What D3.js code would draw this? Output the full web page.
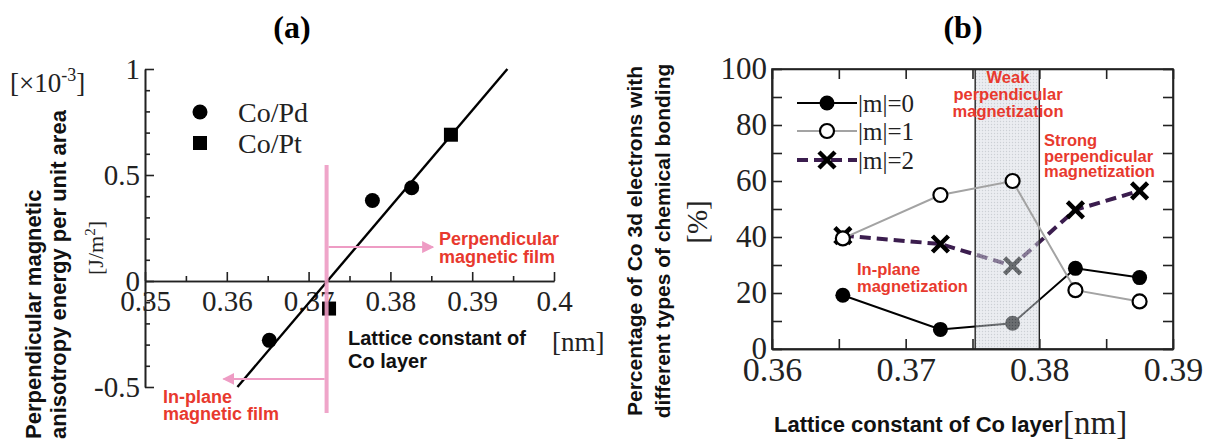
<!DOCTYPE html>
<html>
<head>
<meta charset="utf-8">
<script src="https://cdn.jsdelivr.net/npm/d3@7"></script>
<style>
  html, body { margin: 0; padding: 0; background: #fff; }
  svg { display: block; }
  .serif { font-family: "Liberation Serif", "Times New Roman", serif; }
  .sans { font-family: "Liberation Sans", Arial, sans-serif; font-weight: bold; }
  .note { font-family: "Liberation Sans", Arial, sans-serif; font-weight: bold; fill: #e8392e; }
</style>
</head>
<body>
<svg id="fig" width="1211" height="444"></svg>
<script>
// ---------- Panel (a): perpendicular magnetic anisotropy energy ----------
const coPdLattice = [0.3652, 0.3778, 0.3826];
const coPdEnergy  = [-0.28, 0.38, 0.44];
const coPtLattice = [0.3725, 0.3874];
const coPtEnergy  = [-0.13, 0.69];
const fitLattice  = [0.3613, 0.3943];
const fitEnergy   = [-0.5, 1.0];
const crossover   = 0.3722;           // lattice constant where energy changes sign
const energyTicks = [-0.5, 0, 0.5, 1];
const energyMinor = [-0.4, -0.3, -0.2, -0.1, 0.1, 0.2, 0.3, 0.4, 0.6, 0.7, 0.8, 0.9];
const latticeTicksA = [0.35, 0.36, 0.37, 0.38, 0.39, 0.4];
const latticeMinorA = [0.355, 0.365, 0.375, 0.385, 0.395];
const legendA = ["Co/Pd", "Co/Pt"];

// ---------- Panel (b): share of Co 3d electrons per bonding type ----------
const latticeB = [0.3653, 0.3726, 0.3780, 0.3827, 0.3875];
const m0 = [19.2, 7, 9.2, 28.8, 25.5];
const m1 = [39.5, 55, 60, 21, 17];
const m2 = [40.5, 37.5, 29.7, 49.7, 56.5];
const weakBand = [0.3752, 0.38];
const latticeTicksB = [0.36, 0.37, 0.38, 0.39];
const latticeMinorB = [0.365, 0.375, 0.385];
const percentTicks = [0, 20, 40, 60, 80, 100];
const percentMinor = [10, 30, 50, 70, 90];
const legendB = ["|m|=0", "|m|=1", "|m|=2"];

const svg = d3.select("#fig");
const PINK = "#ee9cc4";
const PURPLE = "#3b1d4e";

// arrowhead for the pink annotation arrows
const defs = svg.append("defs");
defs.append("marker").attr("id", "pinkHead")
  .attr("viewBox", "0 0 10 10").attr("refX", 9).attr("refY", 5)
  .attr("markerWidth", 6).attr("markerHeight", 6).attr("orient", "auto")
  .append("path").attr("d", "M0,0L10,5L0,10Z").attr("fill", PINK);

// dotted fill for the weak-perpendicular band
const pat = defs.append("pattern").attr("id", "dots")
  .attr("width", 3).attr("height", 3).attr("patternUnits", "userSpaceOnUse");
pat.append("rect").attr("width", 3).attr("height", 3).attr("fill", "#d6dbe2");
pat.append("circle").attr("cx", 1.5).attr("cy", 1.5).attr("r", 0.7).attr("fill", "#98a0aa");

function styleAxis(g, size) {
  g.selectAll("path.domain").attr("stroke", "#222").attr("stroke-width", 1.6);
  g.selectAll(".tick line").attr("stroke", "#222").attr("stroke-width", 1.6);
  g.selectAll("text").attr("class", "serif").attr("font-size", size).attr("fill", "#222");
}

// ================= Panel (a) =================
const xA = d3.scaleLinear().domain([0.35, 0.4]).range([145, 554]);
const yA = d3.scaleLinear().domain([-0.5, 1]).range([387, 69]);
const a = svg.append("g");

a.append("text").attr("class", "serif").attr("x", 292).attr("y", 38)
  .attr("text-anchor", "middle").attr("font-size", 32).attr("font-weight", "bold").text("(a)");

// y axis (ticks point inward)
a.append("g").attr("transform", `translate(${xA(0.35)},0)`)
  .call(d3.axisLeft(yA).tickValues(energyMinor).tickSizeInner(-5).tickSizeOuter(0).tickFormat(""))
  .call(g => styleAxis(g, 29));
a.append("g").attr("transform", `translate(${xA(0.35)},0)`)
  .call(d3.axisLeft(yA).tickValues(energyTicks).tickSizeInner(-9).tickSizeOuter(0)
    .tickPadding(5).tickFormat(d => String(d)))
  .call(g => styleAxis(g, 29));

// x axis drawn along zero energy
a.append("g").attr("transform", `translate(0,${yA(0)})`)
  .call(d3.axisBottom(xA).tickValues(latticeMinorA).tickSizeInner(-5).tickSizeOuter(0).tickFormat(""))
  .call(g => styleAxis(g, 29));
a.append("g").attr("transform", `translate(0,${yA(0)})`)
  .call(d3.axisBottom(xA).tickValues(latticeTicksA).tickSizeInner(-9).tickSizeOuter(0)
    .tickPadding(9).tickFormat(d => String(d)))
  .call(g => styleAxis(g, 29));

// units and axis titles
const unitA = a.append("text").attr("class", "serif").attr("x", 10).attr("y", 92).attr("font-size", 27).attr("fill", "#222");
unitA.append("tspan").text("[×10");
unitA.append("tspan").attr("font-size", 18).attr("dy", -11).text("-3");
unitA.append("tspan").attr("dy", 11).text("]");

const jm = a.append("text").attr("class", "serif").attr("font-size", 22).attr("fill", "#222")
  .attr("text-anchor", "middle").attr("transform", "translate(103,248) rotate(-90)");
jm.append("tspan").text("[J/m");
jm.append("tspan").attr("font-size", 15).attr("dy", -8).text("2");
jm.append("tspan").attr("dy", 8).text("]");

["Perpendicular magnetic", "anisotropy energy per unit area"].forEach((t, i) => {
  a.append("text").attr("class", "sans").attr("font-size", 22).attr("fill", "#111")
    .attr("transform", `translate(${41 + i * 25},439) rotate(-90)`).text(t);
});

["Lattice constant of", "Co layer"].forEach((t, i) => {
  a.append("text").attr("class", "sans").attr("font-size", 20).attr("fill", "#111")
    .attr("x", 348).attr("y", 345 + i * 23).text(t);
});
a.append("text").attr("class", "serif").attr("font-size", 27).attr("fill", "#222")
  .attr("x", 552).attr("y", 351).text("[nm]");

// linear fit
a.append("path").datum(d3.zip(fitLattice, fitEnergy))
  .attr("d", d3.line().x(d => xA(d[0])).y(d => yA(d[1])))
  .attr("fill", "none").attr("stroke", "#000").attr("stroke-width", 2.4);

// measured points
a.selectAll("circle.pd").data(d3.zip(coPdLattice, coPdEnergy)).join("circle")
  .attr("class", "pd").attr("cx", d => xA(d[0])).attr("cy", d => yA(d[1])).attr("r", 7.5).attr("fill", "#000");
a.selectAll("rect.pt").data(d3.zip(coPtLattice, coPtEnergy)).join("rect")
  .attr("class", "pt").attr("x", d => xA(d[0]) - 7).attr("y", d => yA(d[1]) - 7)
  .attr("width", 14).attr("height", 14).attr("fill", "#000");

// crossover marker and arrows
a.append("line").attr("x1", xA(crossover)).attr("x2", xA(crossover))
  .attr("y1", yA(0.547)).attr("y2", yA(-0.623)).attr("stroke", PINK).attr("stroke-width", 4).attr("opacity", 0.9);
a.append("line").attr("x1", xA(crossover) + 2).attr("x2", xA(0.3852))
  .attr("y1", yA(0.16)).attr("y2", yA(0.16)).attr("stroke", PINK).attr("stroke-width", 2)
  .attr("marker-end", "url(#pinkHead)");
a.append("line").attr("x1", xA(crossover) - 2).attr("x2", xA(0.3596))
  .attr("y1", yA(-0.462)).attr("y2", yA(-0.462)).attr("stroke", PINK).attr("stroke-width", 2)
  .attr("marker-end", "url(#pinkHead)");

["Perpendicular", "magnetic film"].forEach((t, i) => {
  a.append("text").attr("class", "note").attr("font-size", 18).attr("x", 439).attr("y", 245 + i * 18).text(t);
});
["In-plane", "magnetic film"].forEach((t, i) => {
  a.append("text").attr("class", "note").attr("font-size", 18).attr("x", 163).attr("y", 403 + i * 17).text(t);
});

// legend
const legA = a.append("g");
legA.append("circle").attr("cx", 200).attr("cy", 112).attr("r", 7.5).attr("fill", "#000");
legA.append("rect").attr("x", 193).attr("y", 136).attr("width", 14).attr("height", 14).attr("fill", "#000");
legendA.forEach((t, i) => {
  legA.append("text").attr("class", "serif").attr("font-size", 28).attr("fill", "#222")
    .attr("x", 238).attr("y", 122 + i * 31).text(t);
});

// ================= Panel (b) =================
const xB = d3.scaleLinear().domain([0.36, 0.39]).range([772, 1173]);
const yB = d3.scaleLinear().domain([0, 100]).range([349, 69]);
const b = svg.append("g");

b.append("text").attr("class", "serif").attr("x", 963).attr("y", 38)
  .attr("text-anchor", "middle").attr("font-size", 32).attr("font-weight", "bold").text("(b)");

const lineB = vals => d3.line().x((d, i) => xB(latticeB[i])).y(d => yB(d))(vals);

// |m|=0 and |m|=2 sit beneath the band shading
b.append("path").attr("d", lineB(m0)).attr("fill", "none").attr("stroke", "#000").attr("stroke-width", 2);
b.selectAll("circle.m0").data(m0).join("circle").attr("class", "m0")
  .attr("cx", (d, i) => xB(latticeB[i])).attr("cy", d => yB(d)).attr("r", 7.5).attr("fill", "#000");

b.append("path").attr("d", lineB(m2)).attr("fill", "none").attr("stroke", PURPLE)
  .attr("stroke-width", 4).attr("stroke-dasharray", "11,6");
const cross = (g, cx, cy, s) => {
  g.append("path").attr("d", `M${cx - s},${cy - s}L${cx + s},${cy + s}M${cx - s},${cy + s}L${cx + s},${cy - s}`)
    .attr("stroke", "#000").attr("stroke-width", 4.5).attr("fill", "none");
};
m2.forEach((d, i) => cross(b, xB(latticeB[i]), yB(d), 8));

// weak perpendicular magnetization band
b.append("rect").attr("x", xB(weakBand[0])).attr("y", yB(100))
  .attr("width", xB(weakBand[1]) - xB(weakBand[0])).attr("height", yB(0) - yB(100))
  .attr("fill", "url(#dots)").attr("opacity", 0.5);
weakBand.forEach(v => {
  b.append("line").attr("x1", xB(v)).attr("x2", xB(v)).attr("y1", yB(0)).attr("y2", yB(100))
    .attr("stroke", "#222").attr("stroke-width", 1.4);
});

// |m|=1 on top
b.append("path").attr("d", lineB(m1)).attr("fill", "none").attr("stroke", "#a3a3a3").attr("stroke-width", 2);
b.selectAll("circle.m1").data(m1).join("circle").attr("class", "m1")
  .attr("cx", (d, i) => xB(latticeB[i])).attr("cy", d => yB(d)).attr("r", 7)
  .attr("fill", "#fff").attr("stroke", "#000").attr("stroke-width", 2.2);

// frame with inward ticks on all sides
b.append("rect").attr("x", xB(0.36)).attr("y", yB(100)).attr("width", xB(0.39) - xB(0.36))
  .attr("height", yB(0) - yB(100)).attr("fill", "none").attr("stroke", "#222").attr("stroke-width", 1.6);
const allPct = percentTicks.concat(percentMinor);
const allLatB = latticeTicksB.concat(latticeMinorB);
b.append("g").attr("transform", `translate(${xB(0.36)},0)`)
  .call(d3.axisLeft(yB).tickValues(percentMinor).tickSizeInner(-10).tickSizeOuter(0).tickFormat(""))
  .call(g => styleAxis(g, 31));
b.append("g").attr("transform", `translate(${xB(0.36)},0)`)
  .call(d3.axisLeft(yB).tickValues(percentTicks).tickSizeInner(-10).tickSizeOuter(0).tickPadding(5))
  .call(g => styleAxis(g, 31));
b.append("g").attr("transform", `translate(${xB(0.39)},0)`)
  .call(d3.axisRight(yB).tickValues(allPct).tickSizeInner(-10).tickSizeOuter(0).tickFormat(""))
  .call(g => styleAxis(g, 31));
b.append("g").attr("transform", `translate(0,${yB(0)})`)
  .call(d3.axisBottom(xB).tickValues(latticeMinorB).tickSizeInner(-10).tickSizeOuter(0).tickFormat(""))
  .call(g => styleAxis(g, 34));
b.append("g").attr("transform", `translate(0,${yB(0)})`)
  .call(d3.axisBottom(xB).tickValues(latticeTicksB).tickSizeInner(-10).tickSizeOuter(0)
    .tickPadding(8).tickFormat(d => String(d)))
  .call(g => styleAxis(g, 34));
b.append("g").attr("transform", `translate(0,${yB(100)})`)
  .call(d3.axisTop(xB).tickValues(allLatB).tickSizeInner(-10).tickSizeOuter(0).tickFormat(""))
  .call(g => styleAxis(g, 31));

// axis titles
["Percentage of Co 3d electrons with", "different types of chemical bonding"].forEach((t, i) => {
  b.append("text").attr("class", "sans").attr("font-size", 21).attr("fill", "#111")
    .attr("text-anchor", "middle").attr("transform", `translate(${642 + i * 28},241) rotate(-90)`).text(t);
});
b.append("text").attr("class", "serif").attr("font-size", 29).attr("fill", "#222")
  .attr("text-anchor", "middle").attr("transform", "translate(707,222) rotate(-90)").text("[%]");
b.append("text").attr("class", "sans").attr("font-size", 22).attr("fill", "#111")
  .attr("x", 774).attr("y", 432).text("Lattice constant of Co layer");
b.append("text").attr("class", "serif").attr("font-size", 33).attr("fill", "#222")
  .attr("x", 1063).attr("y", 434).text("[nm]");

// region notes
["Weak", "perpendicular", "magnetization"].forEach((t, i) => {
  b.append("text").attr("class", "note").attr("font-size", 16.5).attr("text-anchor", "middle")
    .attr("x", 1008).attr("y", 83 + i * 17).text(t);
});
["Strong", "perpendicular", "magnetization"].forEach((t, i) => {
  b.append("text").attr("class", "note").attr("font-size", 16.5)
    .attr("x", 1044).attr("y", 146 + i * 15.5).text(t);
});
["In-plane", "magnetization"].forEach((t, i) => {
  b.append("text").attr("class", "note").attr("font-size", 16.5)
    .attr("x", 857).attr("y", 275 + i * 16.5).text(t);
});

// legend
const legB = b.append("g");
const legY = [103, 131, 160];
legB.append("line").attr("x1", 797).attr("x2", 857).attr("y1", legY[0]).attr("y2", legY[0]).attr("stroke", "#000").attr("stroke-width", 2);
legB.append("circle").attr("cx", 827).attr("cy", legY[0]).attr("r", 7.5).attr("fill", "#000");
legB.append("line").attr("x1", 797).attr("x2", 857).attr("y1", legY[1]).attr("y2", legY[1]).attr("stroke", "#a3a3a3").attr("stroke-width", 2);
legB.append("circle").attr("cx", 827).attr("cy", legY[1]).attr("r", 7).attr("fill", "#fff").attr("stroke", "#000").attr("stroke-width", 2.2);
legB.append("line").attr("x1", 797).attr("x2", 857).attr("y1", legY[2]).attr("y2", legY[2]).attr("stroke", PURPLE)
  .attr("stroke-width", 4).attr("stroke-dasharray", "11,6");
cross(legB, 827, legY[2], 8);
legendB.forEach((t, i) => {
  legB.append("text").attr("class", "serif").attr("font-size", 25).attr("fill", "#222")
    .attr("x", 858).attr("y", legY[i] + 9).text(t);
});
</script>
</body>
</html>
